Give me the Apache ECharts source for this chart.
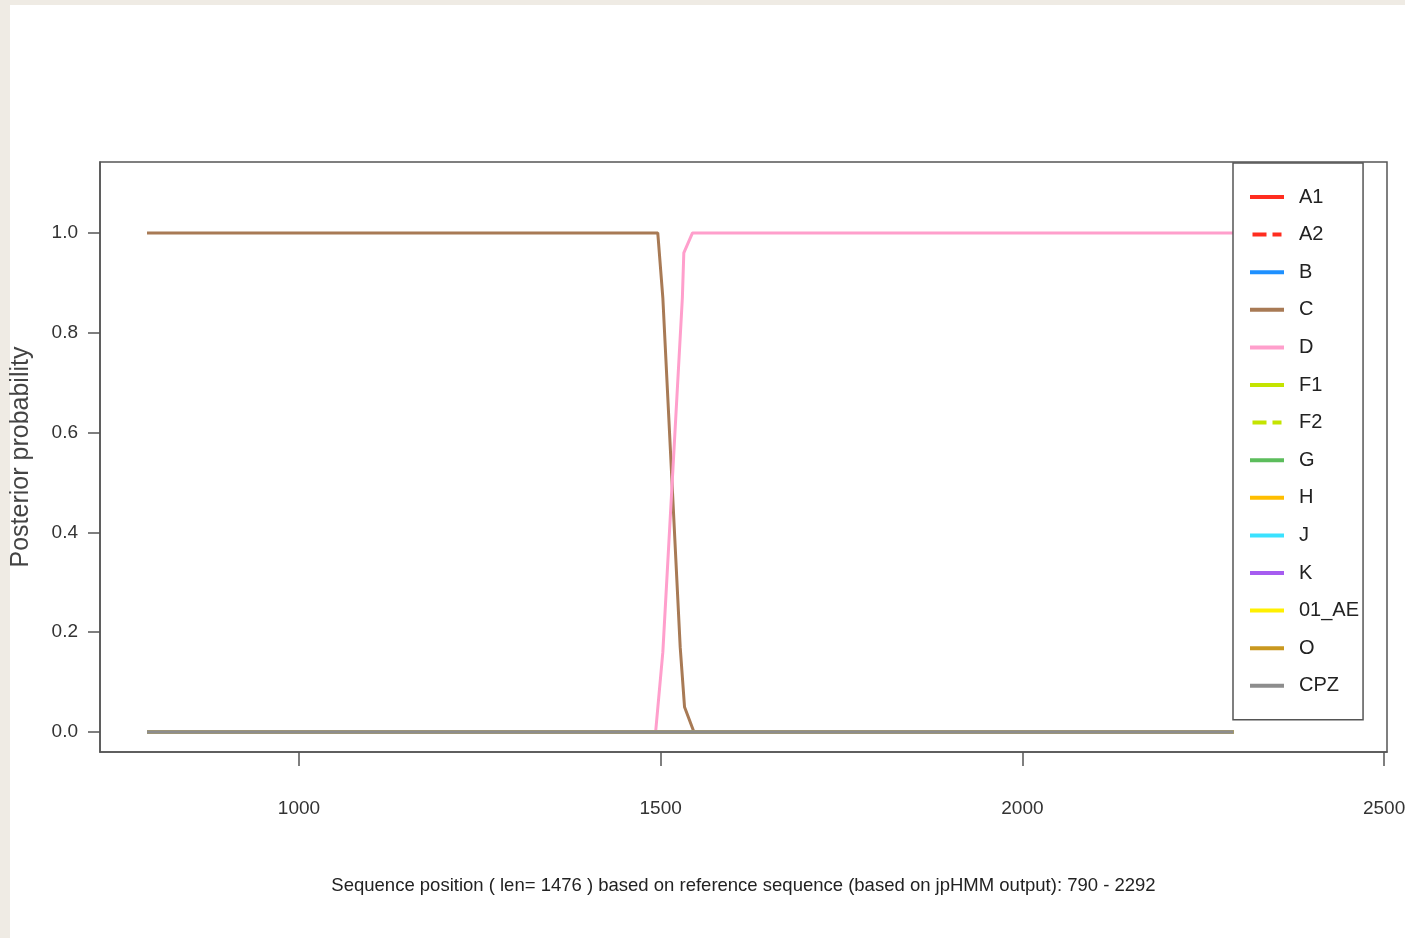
<!DOCTYPE html>
<html>
<head>
<meta charset="utf-8">
<script src="https://cdn.jsdelivr.net/npm/echarts@6/dist/echarts.min.js"></script>
<style>
  html, body { margin: 0; padding: 0; background: #fff; }
  #chart { width: 1405px; height: 938px; }
</style>
</head>
<body>
<div id="chart"></div>
<script>
// subtypes, in legend order
const subtypes = ['A1', 'A2', 'B', 'C', 'D', 'F1', 'F2', 'G', 'H', 'J', 'K', '01_AE', 'O', 'CPZ'];

// sequence range of the query
const flatPositions = [790, 2292];
const flatValues = [0, 0];

// subtype C posterior
const cPositions = [790, 1496, 1503, 1527, 1533, 1546, 2292];
const cValues = [1.0, 1.0, 0.87, 0.17, 0.05, 0.0, 0.0];

// subtype D posterior
const dPositions = [790, 1493, 1503, 1530, 1532, 1544, 2292];
const dValues = [0.0, 0.0, 0.16, 0.87, 0.96, 1.0, 1.0];

// tick labels
const xTicks = [1000, 1500, 2000, 2500];
const yTicks = [0, 0.2, 0.4, 0.6, 0.8, 1.0];

const xTitle = 'Sequence position ( len= 1476 ) based on reference sequence (based on jpHMM output): 790 - 2292';
const yTitle = 'Posterior probability';

// line look per subtype
const lineColors = {
  A1: '#ff2d1f', A2: '#ff2d1f', B: '#1e90ff', C: '#a87a55', D: '#ff9fcc',
  F1: '#c4e400', F2: '#c4e400', G: '#5cbd5c', H: '#ffbe00', J: '#3ae2ff',
  K: '#a65cf0', '01_AE': '#fff000', O: '#c9981f', CPZ: '#8d8d8d'
};
const dashed = ['A2', 'F2'];

const sans = '"Liberation Sans", Arial, sans-serif';

// legend icons: a flat bar, or two short dashes
const solidIcon = 'path://M0,0h34v4h-34z';
const dashIcon = 'path://M0,0h14v4h-14z M20,0h9v4h-9z';

const pairs = (xs, ys) => xs.map((x, i) => [x, ys[i]]);

const seriesData = {};
subtypes.forEach(s => { seriesData[s] = pairs(flatPositions, flatValues); });
seriesData.C = pairs(cPositions, cValues);
seriesData.D = pairs(dPositions, dValues);

const mChart = echarts.init(document.getElementById('chart'));

const options = {
  backgroundColor: '#ffffff',
  animation: false,
  graphic: [
    // beige frame of the screenshot
    { type: 'rect', left: 0, top: 0, shape: { width: 10, height: 938 }, style: { fill: '#efebe4' } },
    { type: 'rect', left: 0, top: 0, shape: { width: 1405, height: 5 }, style: { fill: '#efebe4' } }
  ],
  grid: {
    left: 100,
    right: 18,
    top: 162,
    bottom: 186,
    outerBoundsMode: 'none',
    show: true,
    borderColor: '#555',
    borderWidth: 1.5,
    backgroundColor: 'transparent'
  },
  legend: {
    orient: 'vertical',
    left: 1233,
    top: 163,
    padding: [24, 4, 24, 17],
    backgroundColor: '#fff',
    borderColor: '#555',
    borderWidth: 1.5,
    itemWidth: 34,
    itemHeight: 4,
    itemGap: 17.6,
    data: subtypes.map(s => ({ name: s, icon: dashed.includes(s) ? dashIcon : solidIcon })),
    textStyle: {
      fontFamily: sans,
      fontSize: 20,
      lineHeight: 20,
      color: '#222',
      padding: [0, 0, 0, 10]
    }
  },
  xAxis: {
    type: 'value',
    min: 725,
    max: 2504,
    splitLine: { show: false },
    axisLine: { show: true, onZero: false, lineStyle: { color: '#555', width: 1.5 } },
    axisTick: { show: true, length: 14, customValues: xTicks, lineStyle: { color: '#555', width: 1.5 } },
    axisLabel: {
      customValues: xTicks,
      margin: 47,
      fontFamily: sans,
      fontSize: 19,
      color: '#333',
      formatter: v => String(v)
    },
    name: xTitle,
    nameLocation: 'middle',
    nameGap: 124,
    nameTextStyle: { fontFamily: sans, fontSize: 18.5, color: '#222' }
  },
  yAxis: {
    type: 'value',
    min: -0.04,
    max: 1.142,
    splitLine: { show: false },
    axisLine: { show: true, onZero: false, lineStyle: { color: '#555', width: 1.5 } },
    axisTick: { show: true, length: 12, customValues: yTicks, lineStyle: { color: '#555', width: 1.5 } },
    axisLabel: {
      customValues: yTicks,
      margin: 22,
      fontFamily: sans,
      fontSize: 19,
      color: '#333',
      formatter: v => v.toFixed(1)
    },
    name: yTitle,
    nameLocation: 'middle',
    nameGap: 66,
    nameTextStyle: { fontFamily: sans, fontSize: 25, color: '#444' }
  },
  series: subtypes.map(s => ({
    name: s,
    type: 'line',
    data: seriesData[s],
    symbol: 'none',
    silent: true,
    z: s === 'CPZ' ? 3 : 2,
    color: lineColors[s],
    lineStyle: {
      color: lineColors[s],
      width: s === 'CPZ' ? 3.5 : 3,
      type: dashed.includes(s) ? [8, 8] : 'solid'
    }
  }))
};

mChart.setOption(options);
</script>
</body>
</html>
